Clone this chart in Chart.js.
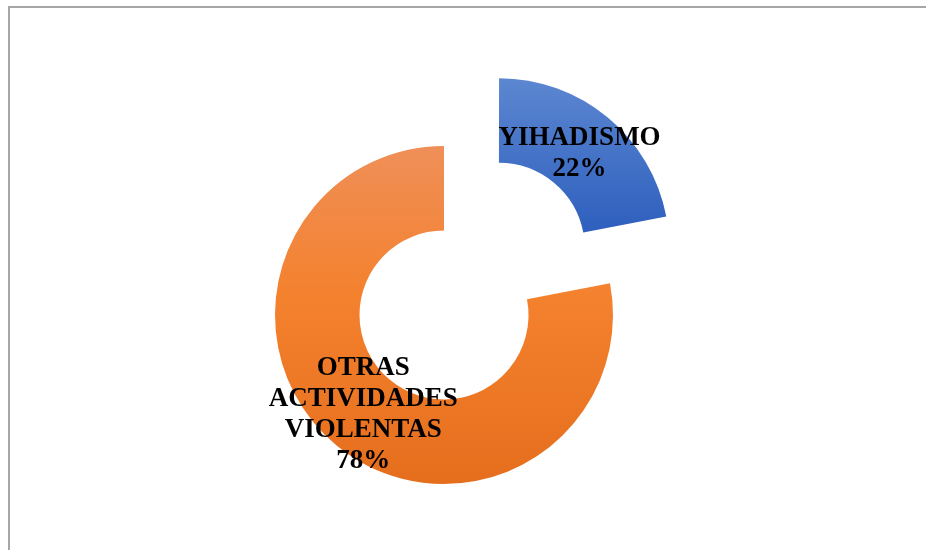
<!DOCTYPE html>
<html>
<head>
<meta charset="utf-8">
<script src="https://cdn.jsdelivr.net/npm/chart.js@4"></script>
<style>
  html, body { margin: 0; padding: 0; background: #fff; overflow: hidden; }
  #wrap { position: relative; width: 926px; height: 550px; }
  #frame {
    position: absolute; left: 8px; top: 6px; width: 1000px; height: 1000px;
    border: 2px solid #a6a6a6; box-sizing: border-box;
  }
  #chart { position: absolute; left: 0; top: 0; }
</style>
</head>
<body>
<div id="wrap">
  <div id="frame"></div>
  <canvas id="chart" width="926" height="550"></canvas>
</div>
<script>
const categories = ["YIHADISMO", "OTRAS ACTIVIDADES VIOLENTAS"];
const labelLines = [["YIHADISMO"], ["OTRAS", "ACTIVIDADES", "VIOLENTAS"]];
const values = [22, 78];
const explode = [344, 0]; // chart.js moves a slice by offset / 4

const RADIUS = 169;
const labelFont = 'bold 27px "Liberation Serif", "Times New Roman", serif';

function sliceFill(context) {
  const chart = context.chart;
  const area = chart.chartArea;
  if (!area) return "#999";
  const cy = (area.top + area.bottom) / 2;
  const c = chart.ctx;
  let g;
  if (context.dataIndex === 0) {
    g = c.createLinearGradient(0, cy - RADIUS, 0, cy - 20);
    g.addColorStop(0, "#5b86d0");
    g.addColorStop(1, "#2f60be");
  } else {
    g = c.createLinearGradient(0, cy - RADIUS, 0, cy + RADIUS);
    g.addColorStop(0, "#ef8f58");
    g.addColorStop(0.45, "#f4812d");
    g.addColorStop(1, "#e56e1d");
  }
  return g;
}

// labels in the middle of each (moved) slice
const sliceLabels = {
  id: "sliceLabels",
  afterDatasetsDraw(chart) {
    const ctx = chart.ctx;
    const meta = chart.getDatasetMeta(0);
    const total = values.reduce((a, b) => a + b, 0);
    ctx.save();
    ctx.font = labelFont;
    ctx.fillStyle = "#000";
    ctx.textAlign = "center";
    ctx.textBaseline = "middle";
    meta.data.forEach((arc, i) => {
      const mid = (arc.startAngle + arc.endAngle) / 2;
      const r = (arc.innerRadius + arc.outerRadius) / 2;
      const shift = explode[i] / 4;
      const x = arc.x + Math.cos(mid) * (r + shift);
      const y = arc.y + Math.sin(mid) * (r + shift) + 2;
      const lines = labelLines[i].concat([Math.round(values[i] / total * 100) + "%"]);
      const lh = 31;
      const y0 = y - (lines.length - 1) * lh / 2;
      lines.forEach((t, k) => ctx.fillText(t, x, y0 + k * lh));
    });
    ctx.restore();
  }
};

new Chart(document.getElementById("chart"), {
  type: "doughnut",
  data: {
    labels: categories,
    datasets: [{
      data: values,
      backgroundColor: sliceFill,
      borderWidth: 0,
      offset: explode,
      hoverOffset: 0
    }]
  },
  options: {
    responsive: false,
    animation: false,
    radius: RADIUS,
    cutout: "50%",
    layout: { padding: { left: 300, right: 338, top: 200, bottom: 120 } },
    plugins: {
      legend: { display: false },
      tooltip: { enabled: false }
    },
    events: []
  },
  plugins: [sliceLabels]
});
</script>
</body>
</html>
